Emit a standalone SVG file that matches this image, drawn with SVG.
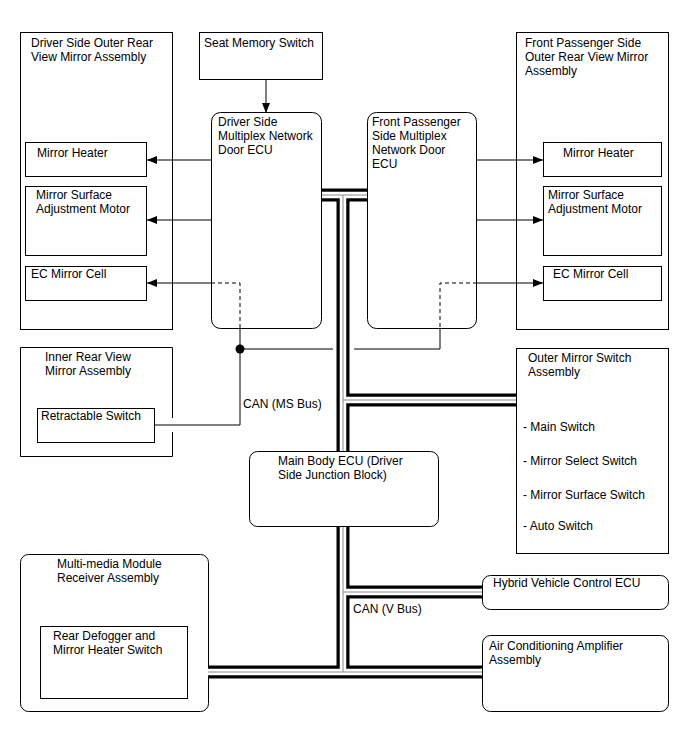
<svg xmlns="http://www.w3.org/2000/svg" width="688" height="755" viewBox="0 0 688 755">
<style>
text{font-family:"Liberation Sans",Arial,sans-serif;font-size:12px;fill:#000}
.box{fill:#fff;stroke:#000;stroke-width:1}
.ln{fill:none;stroke:#000;stroke-width:1}
.dash{fill:none;stroke:#000;stroke-width:1;stroke-dasharray:4 3}
.busb{fill:none;stroke:#000;stroke-width:13}
.busw{fill:none;stroke:#fff;stroke-width:6.5}
.busg{fill:none;stroke:#888;stroke-width:1}
</style>
<defs>
<marker id="arr" viewBox="0 0 10 8" refX="10" refY="4" markerWidth="10" markerHeight="8" markerUnits="userSpaceOnUse" orient="auto">
<path d="M0,0 L10,4 L0,8 Z" fill="#000"/>
</marker>
</defs>
<rect width="688" height="755" fill="#fff"/>

<g id="driver-outer-mirror">
<rect class="box" x="20.5" y="32.5" width="152" height="297" style="fill:none"/>
<text x="31" y="47">Driver Side Outer Rear</text>
<text x="31" y="61">View Mirror Assembly</text>
</g>
<g id="mirror-heater-left">
<rect class="box" x="25.5" y="142.5" width="121" height="34"/>
<text x="37" y="157">Mirror Heater</text>
</g>
<g id="mirror-surface-left">
<rect class="box" x="25.5" y="186.5" width="121" height="69"/>
<text x="36" y="199">Mirror Surface</text>
<text x="36" y="213">Adjustment Motor</text>
</g>
<g id="ec-mirror-left">
<rect class="box" x="25.5" y="266.5" width="121" height="34"/>
<text x="31" y="278">EC Mirror Cell</text>
</g>

<g id="seat-memory-switch">
<rect class="box" x="199.5" y="32.5" width="123" height="47"/>
<text x="204" y="47">Seat Memory Switch</text>
</g>

<g id="driver-ecu">
<rect class="box" x="211.5" y="112.5" width="110" height="216" rx="9"/>
<text x="218" y="126">Driver Side</text>
<text x="218" y="140">Multiplex Network</text>
<text x="218" y="154">Door ECU</text>
</g>

<g id="passenger-ecu">
<rect class="box" x="367.5" y="112.5" width="109" height="216" rx="9"/>
<text x="372" y="126">Front Passenger</text>
<text x="372" y="140">Side Multiplex</text>
<text x="372" y="154">Network Door</text>
<text x="372" y="168">ECU</text>
</g>

<g id="passenger-outer-mirror">
<rect class="box" x="516.5" y="32.5" width="152" height="297" style="fill:none"/>
<text x="525" y="47">Front Passenger Side</text>
<text x="525" y="61">Outer Rear View Mirror</text>
<text x="525" y="75">Assembly</text>
</g>
<g id="mirror-heater-right">
<rect class="box" x="543.5" y="142.5" width="118" height="34"/>
<text x="563" y="157">Mirror Heater</text>
</g>
<g id="mirror-surface-right">
<rect class="box" x="543.5" y="186.5" width="118" height="69"/>
<text x="548" y="199">Mirror Surface</text>
<text x="548" y="213">Adjustment Motor</text>
</g>
<g id="ec-mirror-right">
<rect class="box" x="543.5" y="266.5" width="118" height="34"/>
<text x="553" y="278">EC Mirror Cell</text>
</g>

<g id="inner-mirror">
<path class="ln" d="M172.5,418 V347.5 H20.5 V456.5 H172.5 V432"/>
<text x="45" y="361">Inner Rear View</text>
<text x="45" y="375">Mirror Assembly</text>
</g>
<g id="retractable-switch">
<rect class="box" x="37.5" y="408.5" width="117" height="34"/>
<text x="41" y="420">Retractable Switch</text>
</g>
<text x="243" y="408">CAN (MS Bus)</text>

<g id="outer-mirror-switch">
<rect class="box" x="516.5" y="348.5" width="152" height="205"/>
<text x="528" y="362">Outer Mirror Switch</text>
<text x="528" y="376">Assembly</text>
<text x="523" y="431">- Main Switch</text>
<text x="523" y="465">- Mirror Select Switch</text>
<text x="523" y="499">- Mirror Surface Switch</text>
<text x="523" y="530">- Auto Switch</text>
</g>

<g id="main-body-ecu">
<rect class="box" x="249.5" y="451.5" width="189" height="75" rx="8"/>
<text x="278" y="465">Main Body ECU (Driver</text>
<text x="278" y="479">Side Junction Block)</text>
</g>

<text x="353" y="613">CAN (V Bus)</text>

<g id="multimedia">
<rect class="box" x="20.5" y="554.5" width="188" height="157" rx="8"/>
<text x="57" y="568">Multi-media Module</text>
<text x="57" y="582">Receiver Assembly</text>
</g>
<g id="rear-defogger-switch">
<rect class="box" x="40.5" y="626.5" width="147" height="72"/>
<text x="53" y="640">Rear Defogger and</text>
<text x="53" y="654">Mirror Heater Switch</text>
</g>

<g id="hybrid-ecu">
<rect class="box" x="482.5" y="575.5" width="186" height="34" rx="8"/>
<text x="493" y="587">Hybrid Vehicle Control ECU</text>
</g>
<g id="ac-amplifier">
<rect class="box" x="482.5" y="635.5" width="186" height="76" rx="8"/>
<text x="489" y="650">Air Conditioning Amplifier</text>
<text x="489" y="664">Assembly</text>
</g>

<g id="connectors">
<g id="bus">
<path class="busb" d="M322,195 H367 M343,195 V451 M343,527 V672 M343,400 H516 M343,592 H482 M208,672 H482"/>
<path class="busw" d="M322,195 H367 M343,195 V451 M343,527 V672 M343,400 H516 M343,592 H482 M208,672 H482"/>
<path class="busg" d="M322,195 H367 M343,195 V451 M343,527 V672 M343,400 H516 M343,592 H482 M208,672 H482"/>
</g>
<path class="ln" d="M266,79 V113" marker-end="url(#arr)"/>
<path class="ln" d="M211,160 H147" marker-end="url(#arr)"/>
<path class="ln" d="M211,220 H147" marker-end="url(#arr)"/>
<path class="ln" d="M211,283 H147" marker-end="url(#arr)"/>
<path class="ln" d="M477,160 H543" marker-end="url(#arr)"/>
<path class="ln" d="M477,220 H543" marker-end="url(#arr)"/>
<path class="ln" d="M477,283 H543" marker-end="url(#arr)"/>
<path class="dash" d="M211,283 H240 V328"/>
<path class="dash" d="M477,283 H440 V328"/>
<path class="ln" d="M240,328 V349 M240,349 H333 M354,349 H440 V328"/>
<path class="ln" d="M155,425 H240 V349"/>
<circle cx="240" cy="349" r="4.5" fill="#000"/>
</g>
</svg>
